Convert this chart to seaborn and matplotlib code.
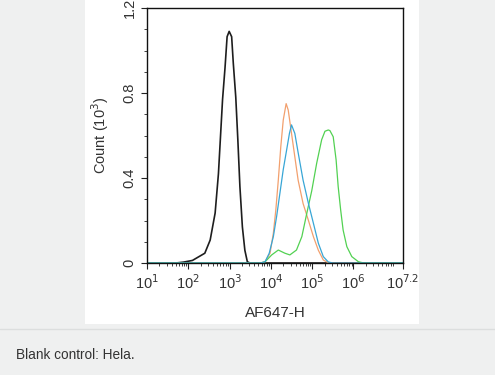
import numpy as np
import pandas as pd
import matplotlib.pyplot as plt
import matplotlib.ticker as mticker
import seaborn as sns

# log10 of AF647-H intensity, and counts (x10^3)
BLANK_LOG = [1.0, 1.7, 1.88, 2.10, 2.40, 2.53, 2.65, 2.73, 2.77, 2.83, 2.89, 2.94, 2.99,
             3.05, 3.09, 3.15, 3.20, 3.25, 3.31, 3.37, 3.43, 3.49, 7.2]
BLANK_CNT = [0.0, 0.0, 0.004, 0.012, 0.046, 0.108, 0.235, 0.42, 0.56, 0.77, 0.92, 1.065, 1.09,
             1.065, 0.94, 0.78, 0.58, 0.36, 0.17, 0.06, 0.006, 0.0, 0.0]

ORANGE_LOG = [1.0, 3.75, 3.86, 3.98, 4.06, 4.12, 4.18, 4.24, 4.30, 4.37, 4.42, 4.50, 4.58,
              4.66, 4.78, 4.91, 5.03, 5.15, 5.27, 5.40, 7.2]
ORANGE_CNT = [0.0, 0.0, 0.006, 0.046, 0.14, 0.25, 0.39, 0.547, 0.673, 0.75, 0.72, 0.61, 0.50,
              0.39, 0.28, 0.20, 0.124, 0.06, 0.014, 0.0, 0.0]

BLUE_LOG = [1.0, 3.75, 3.86, 3.96, 4.06, 4.14, 4.22, 4.30, 4.38, 4.45, 4.50, 4.58, 4.66,
            4.78, 4.91, 5.03, 5.15, 5.27, 5.39, 5.50, 7.2]
BLUE_CNT = [0.0, 0.0, 0.006, 0.046, 0.124, 0.22, 0.33, 0.44, 0.53, 0.61, 0.65, 0.61, 0.52,
            0.39, 0.28, 0.187, 0.093, 0.03, 0.005, 0.0, 0.0]

GREEN_LOG = [1.0, 3.75, 3.86, 4.02, 4.18, 4.34, 4.46, 4.62, 4.75, 4.87, 4.99, 5.11, 5.23,
             5.31, 5.39, 5.43, 5.51, 5.58, 5.63, 5.69, 5.75, 5.84, 5.96, 6.12, 6.25, 7.2]
GREEN_CNT = [0.0, 0.0, 0.006, 0.038, 0.061, 0.046, 0.038, 0.061, 0.124, 0.234, 0.34, 0.47, 0.58,
             0.62, 0.626, 0.623, 0.594, 0.485, 0.36, 0.25, 0.155, 0.077, 0.03, 0.006, 0.0, 0.0]

TICK_POWERS = [1, 2, 3, 4, 5, 6, 7.2]
TICK_LABELS = ['10$^{1}$', '10$^{2}$', '10$^{3}$', '10$^{4}$', '10$^{5}$', '10$^{6}$', '10$^{7.2}$']
Y_TICKS = [0, 0.4, 0.8, 1.2]
Y_LABELS = ['0', '0.4', '0.8', '1.2']

SERIES = [
    ('blank', BLANK_LOG, BLANK_CNT, '#1e1e1e', 1.2),
    ('orange', ORANGE_LOG, ORANGE_CNT, '#f2a06e', 0.9),
    ('green', GREEN_LOG, GREEN_CNT, '#52d152', 0.9),
    ('blue', BLUE_LOG, BLUE_CNT, '#38a6d6', 0.9),
]

sns.set_style('ticks')
plt.rcParams['font.family'] = ['Liberation Sans', 'DejaVu Sans']

BG = '#eff0f0'
fig = plt.figure(figsize=(4.95, 3.75), dpi=100, facecolor=BG)

# white panel behind the plot, plus separator line
panel = fig.add_axes([85 / 495, 1 - 324 / 375, (419 - 85) / 495, 324 / 375], zorder=-5)
panel.set_facecolor('white')
panel.set_xticks([])
panel.set_yticks([])
for s in panel.spines.values():
    s.set_visible(False)
fig.add_artist(plt.Line2D([0, 1], [1 - 329 / 375] * 2, color='#dcdede', lw=1.0,
                          transform=fig.transFigure))

ax = fig.add_axes([147 / 495, 1 - 263 / 375, (403 - 147) / 495, 255 / 375], zorder=1)
ax.set_facecolor('white')

for name, xs, ys, color, lw in SERIES:
    df = pd.DataFrame({'x': np.power(10.0, xs), 'y': ys})
    sns.lineplot(data=df, x='x', y='y', color=color, lw=lw, ax=ax, legend=False)

ax.set_xscale('log')
ax.set_xlim(10, 10 ** 7.2)
ax.set_ylim(0, 1.2)
ax.set_xticks([10 ** p for p in TICK_POWERS])
ax.set_xticklabels(TICK_LABELS)
ax.xaxis.set_minor_locator(mticker.LogLocator(base=10, subs=np.arange(2, 10), numticks=20))
ax.xaxis.set_minor_formatter(mticker.NullFormatter())
ax.set_yticks(Y_TICKS)
ax.set_yticklabels(Y_LABELS, rotation=90, va='center')
ax.yaxis.set_minor_locator(mticker.MultipleLocator(0.1))

ax.tick_params(which='major', length=4, width=0.8, colors='#222222', labelsize=10.5,
               labelcolor='#333333')
ax.tick_params(which='minor', length=2, width=0.6, colors='#222222')
for s in ax.spines.values():
    s.set_linewidth(1.0)
    s.set_color('#111111')

ax.set_xlabel('AF647-H', fontsize=11, color='#333333', labelpad=10)
ax.set_ylabel('Count (10$^{3}$)', fontsize=10.5, color='#333333', labelpad=8)

fig.text(16 / 495, 1 - 355 / 375, 'Blank control: Hela.', fontsize=9.8, color='#333333',
         va='center', ha='left')

fig.savefig('out.png', dpi=100, facecolor=BG)
